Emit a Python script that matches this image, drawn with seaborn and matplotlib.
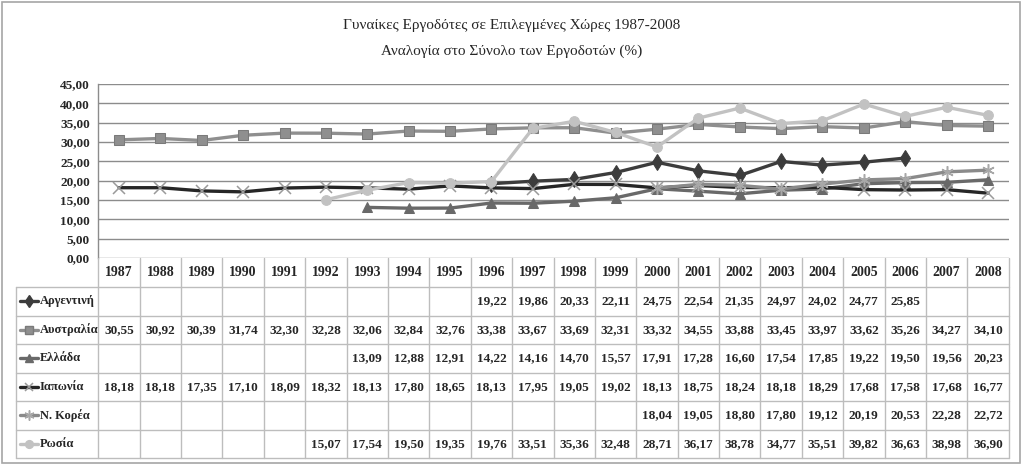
import numpy as np
import pandas as pd
import matplotlib
matplotlib.use("Agg")
import matplotlib.pyplot as plt
from matplotlib.lines import Line2D
from matplotlib.patches import Rectangle
import seaborn as sns

years = list(range(1987, 2009))
argentina = [None]*9 + [19.22, 19.86, 20.33, 22.11, 24.75, 22.54, 21.35, 24.97, 24.02, 24.77, 25.85, None, None]
australia = [30.55, 30.92, 30.39, 31.74, 32.30, 32.28, 32.06, 32.84, 32.76, 33.38, 33.67, 33.69,
             32.31, 33.32, 34.55, 33.88, 33.45, 33.97, 33.62, 35.26, 34.27, 34.10]
greece = [None]*6 + [13.09, 12.88, 12.91, 14.22, 14.16, 14.70, 15.57, 17.91, 17.28, 16.60,
                     17.54, 17.85, 19.22, 19.50, 19.56, 20.23]
japan = [18.18, 18.18, 17.35, 17.10, 18.09, 18.32, 18.13, 17.80, 18.65, 18.13, 17.95, 19.05,
         19.02, 18.13, 18.75, 18.24, 18.18, 18.29, 17.68, 17.58, 17.68, 16.77]
korea = [None]*13 + [18.04, 19.05, 18.80, 17.80, 19.12, 20.19, 20.53, 22.28, 22.72]
russia = [None]*5 + [15.07, 17.54, 19.50, 19.35, 19.76, 33.51, 35.36, 32.48, 28.71, 36.17,
                     38.78, 34.77, 35.51, 39.82, 36.63, 38.98, 36.90]

names = ["Αργεντινή", "Αυστραλία", "Ελλάδα", "Ιαπωνία", "Ν. Κορέα", "Ρωσία"]
series = [argentina, australia, greece, japan, korea, russia]
title1 = "Γυναίκες Εργοδότες σε Επιλεγμένες Χώρες 1987-2008"
title2 = "Αναλογία στο Σύνολο των Εργοδοτών (%)"
yticks = list(range(0, 50, 5))

styles = [
    dict(color="#3c3c3c", marker="d", ms=8, mfc="#3c3c3c", mec="#3c3c3c", lw=2.4),
    dict(color="#8f8f8f", marker="s", ms=7, mfc="#8f8f8f", mec="#7a7a7a", lw=2.4),
    dict(color="#696969", marker="^", ms=7, mfc="#696969", mec="#696969", lw=2.4),
    dict(color="#262626", marker="x", ms=8, mfc="none", mec="#9a9a9a", mew=1.1, lw=2.4),
    dict(color="#8a8a8a", marker=(6, 2, 0), ms=9, mfc="none", mec="#a8a8a8", mew=1.1, lw=2.4),
    dict(color="#c2c2c2", marker="o", ms=7, mfc="#c2c2c2", mec="#c2c2c2", lw=2.4),
]

sns.set_theme(style="white")
plt.rcParams["font.family"] = ["Liberation Serif", "DejaVu Serif"]

W, H = 1023, 466
def fx(px): return px / W
def fy(py): return 1 - py / H

fig = plt.figure(figsize=(W/100, H/100), dpi=100)
fig.patch.set_facecolor("white")
fig.patches.append(Rectangle((fx(2), fy(463)), fx(1018), (461)/H, transform=fig.transFigure,
                             fill=False, edgecolor="#a6a6a6", lw=1.2))

L, R, T, B = 98.3, 1008.7, 84, 258
ax = fig.add_axes([fx(L), fy(B), (R-L)/W, (B-T)/H])
for name, vals, st in zip(names, series, styles):
    df = pd.DataFrame({"year": years, "v": vals}).dropna()
    sns.lineplot(data=df, x="year", y="v", ax=ax, zorder=3, **st)
ax.set_xlim(1986.5, 2008.5)
ax.set_ylim(0, 45)
ax.set_yticks(yticks)
ax.set_yticklabels([f"{t:.2f}".replace(".", ",") for t in yticks], fontweight="bold", fontsize=9.5)
ax.tick_params(axis="y", length=0, pad=6)
ax.set_xticks([])
ax.set_xlabel("")
ax.set_ylabel("")
ax.yaxis.grid(True, color="#8c8c8c", lw=1)
ax.xaxis.grid(False)
for s in ["top", "right", "bottom"]:
    ax.spines[s].set_visible(False)
ax.spines["left"].set_color("#8c8c8c")
ax.spines["left"].set_linewidth(1)
ax.set_facecolor("none")

fig.text(0.5, fy(25), title1, ha="center", va="center", fontsize=11)
fig.text(0.5, fy(51), title2, ha="center", va="center", fontsize=11)

# data table
TB = 458
tab = fig.add_axes([fx(L), fy(TB), (R-L)/W, (TB-B)/H])
tab.set_xlim(1986.5, 2008.5)
tab.set_ylim(TB-B, 0)
tab.axis("off")
colw = (R-L)/22
def px2x(px): return 1986.5 + (px - L)/colw
xleft = px2x(16)
hdr = 29
rowh = (TB - B - hdr)/6
gc = "#bdbdbd"
for k in range(23):
    x = 1986.5 + k
    tab.add_line(Line2D([x, x], [0, TB-B], color=gc, lw=1, clip_on=False))
tab.add_line(Line2D([xleft, xleft], [hdr, TB-B], color=gc, lw=1, clip_on=False))
for i in range(7):
    y = hdr + i*rowh
    tab.add_line(Line2D([xleft, 2008.5], [y, y], color=gc, lw=1, clip_on=False))
for yr in years:
    tab.text(yr, hdr/2, str(yr), ha="center", va="center", fontsize=10, fontweight="bold")
for i, (name, vals, st) in enumerate(zip(names, series, styles)):
    yc = hdr + (i+0.5)*rowh
    for yr, v in zip(years, vals):
        if v is not None:
            tab.text(yr, yc, f"{v:.2f}".replace(".", ","), ha="center", va="center",
                     fontsize=9.5, fontweight="bold")
    ln = Line2D([px2x(20), px2x(38)], [yc, yc], color=st["color"], lw=2.4, clip_on=False)
    tab.add_line(ln)
    mk = Line2D([px2x(29)], [yc], marker=st["marker"], ms=st["ms"]*0.8, mfc=st["mfc"],
                mec=st["mec"], mew=st.get("mew", 1), lw=0, clip_on=False)
    tab.add_line(mk)
    tab.text(px2x(39.5), yc, name, ha="left", va="center", fontsize=9, fontweight="bold")

fig.savefig("out.png", dpi=100)
